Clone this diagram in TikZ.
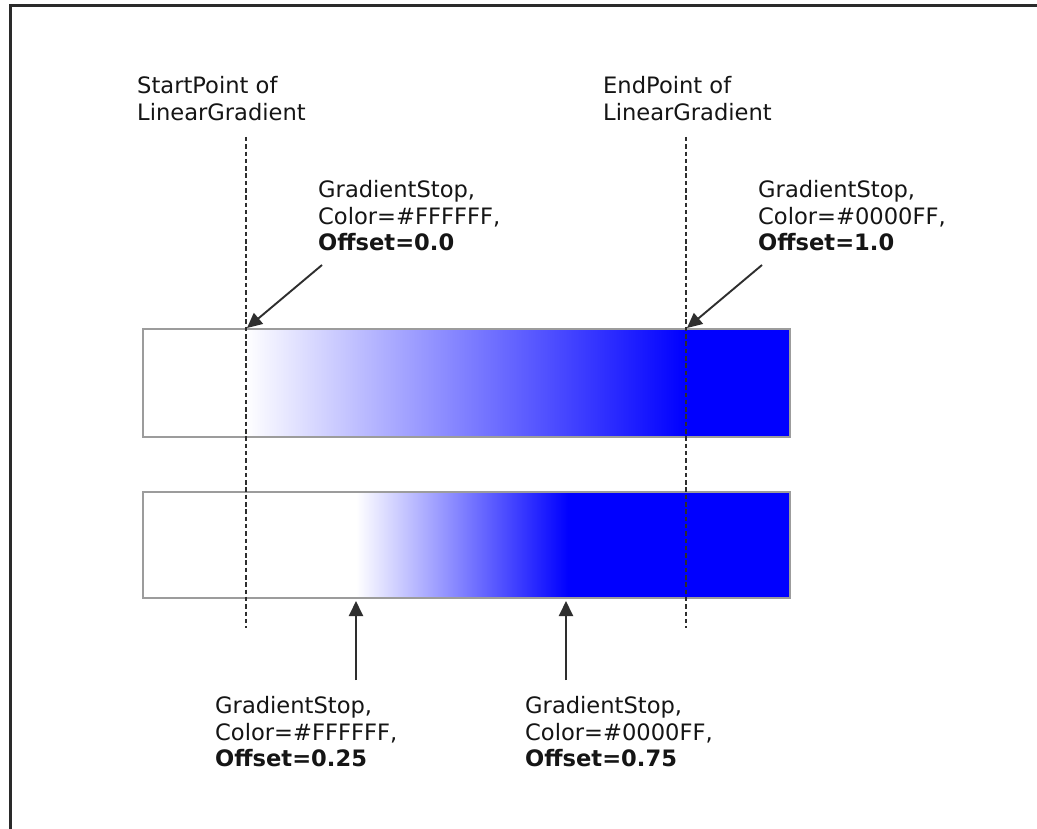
\documentclass[tikz,border=0pt]{standalone}
\usepackage{fontspec}
\setmainfont{DejaVu Sans}
\usetikzlibrary{arrows.meta}
\definecolor{txt}{HTML}{151515}
\definecolor{arr}{HTML}{2E2E2E}
\definecolor{bordergray}{HTML}{9C9C9C}
\definecolor{framec}{HTML}{2A2A2A}
\begin{document}
\begin{tikzpicture}[x=1pt,y=-1pt,
  lbl/.style={anchor=north west, inner sep=0pt, align=left, text=txt, font=\fontsize{22.6}{26.8}\selectfont},
  pointer/.style={draw=arr, line width=1.9pt, -{Triangle[length=15pt,width=14pt]}},
  guide/.style={draw=arr, line width=2.4pt, dash pattern=on 4.5pt off 2.8pt},
  bar/.style={draw=bordergray, line width=2.6pt}]
\useasboundingbox (0,0) rectangle (1037,829);
\fill[white] (0,0) rectangle (1037,829);
% frame
\draw[framec, line width=3pt] (10.5,829) -- (10.5,6) -- (1037,6);

% bar 1
\fill[white] (143,329) rectangle (245,437);
\shade[left color=white, right color=blue] (245,329) rectangle (685,437);
\fill[blue] (685,329) rectangle (790,437);
\draw[bar] (143,329) rectangle (790,437);

% bar 2
\fill[white] (143,492) rectangle (356,598);
\shade[left color=white, right color=blue] (356,492) rectangle (568,598);
\fill[blue] (568,492) rectangle (790,598);
\draw[bar] (143,492) rectangle (790,598);

% guides
\coordinate (s1) at (246,137);
\coordinate (s2) at (246,628);
\coordinate (e1) at (686,137);
\coordinate (e2) at (686,628);
\draw[guide] (s1) -- (s2);
\draw[guide] (e1) -- (e2);

% labels
\node[lbl] (startlbl) at (137,76) {StartPoint of\\LinearGradient};
\node[lbl] (endlbl) at (603,76) {EndPoint of\\LinearGradient};
\node[lbl] (stop0) at (318,180) {GradientStop,\\Color=\#FFFFFF,\\\textbf{Offset=0.0}};
\node[lbl] (stop1) at (758,180) {GradientStop,\\Color=\#0000FF,\\\textbf{Offset=1.0}};
\node[lbl] (stop25) at (215,696) {GradientStop,\\Color=\#FFFFFF,\\\textbf{Offset=0.25}};
\node[lbl] (stop75) at (525,696) {GradientStop,\\Color=\#0000FF,\\\textbf{Offset=0.75}};

% arrows
\coordinate (t0) at (322,265);
\coordinate (h0) at (247,328);
\coordinate (t1) at (762,265);
\coordinate (h1) at (687,328);
\coordinate (t25) at (356,680);
\coordinate (h25) at (356,601);
\coordinate (t75) at (566,680);
\coordinate (h75) at (566,601);
\draw[pointer] (t0) -- (h0);
\draw[pointer] (t1) -- (h1);
\draw[pointer] (t25) -- (h25);
\draw[pointer] (t75) -- (h75);
\end{tikzpicture}
\end{document}
